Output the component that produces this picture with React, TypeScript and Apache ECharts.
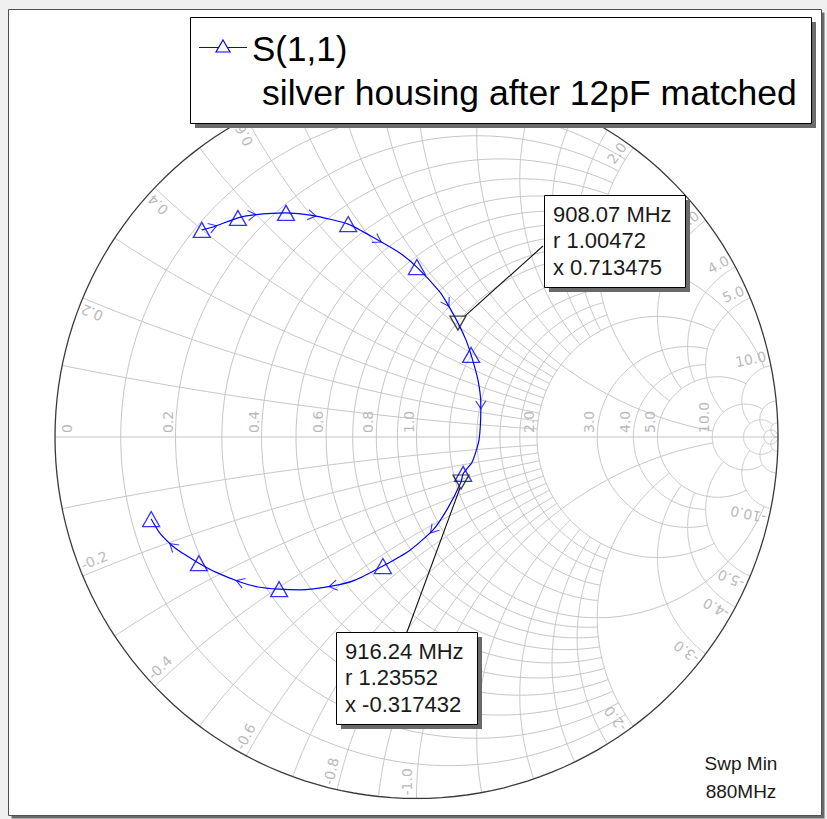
import React, { useEffect, useRef } from "react";
import * as echarts from "echarts";

// ---------- data ----------
const SERIES_NAME = "S(1,1)";
const SERIES_DESC = "silver housing after 12pF matched";
const SWP_TEXT = ["Swp Min", "880MHz"];

const TRACE_RE = [-0.594, -0.563, -0.494, -0.455, -0.361, -0.289, -0.189, -0.107, -0.046, 0.001, 0.065, 0.084, 0.115, 0.137, 0.151, 0.170, 0.178, 0.173, 0.154, 0.129, 0.123, 0.087, 0.046, -0.018, -0.093, -0.170, -0.231, -0.322, -0.380, -0.438, -0.488, -0.557, -0.602, -0.640, -0.674, -0.710, -0.734];
const TRACE_IM = [0.573, 0.581, 0.606, 0.614, 0.620, 0.613, 0.589, 0.545, 0.509, 0.470, 0.401, 0.371, 0.315, 0.268, 0.227, 0.158, 0.089, -0.008, -0.069, -0.102, -0.125, -0.196, -0.257, -0.313, -0.357, -0.396, -0.412, -0.423, -0.421, -0.415, -0.401, -0.373, -0.349, -0.326, -0.302, -0.266, -0.227];
const MARKER_IDX = [0, 2, 4, 6, 9, 14, 19, 24, 28, 32, 36];
const ARROW_IDX = [1, 3, 5, 7, 11, 16, 22, 26, 30, 34];

// marker readouts
const MK_FREQ = ["908.07 MHz", "916.24 MHz"];
const MK_R = [1.00472, 1.23552];
const MK_X = [0.713475, -0.317432];

// Smith grid: value and where each arc stops
const R_VALUES = [0.1, 0.2, 0.3, 0.4, 0.5, 0.6, 0.7, 0.8, 0.9, 1.0, 1.2, 1.4, 1.6, 1.8, 2.0, 3.0, 4.0, 5.0, 10, 20, 50];
const R_XMAX = [2, 2, 2, 2, 2, 2, 2, 2, 2, 10, 2, 2, 2, 2, 5, 5, 5, 10, 20, 50, Infinity];
const X_VALUES = [0.1, 0.2, 0.3, 0.4, 0.5, 0.6, 0.7, 0.8, 0.9, 1.0, 1.2, 1.4, 1.6, 1.8, 2.0, 3.0, 4.0, 5.0, 10, 20, 50];
const X_RMAX = [2, 2, 2, 2, 2, 2, 2, 2, 2, 10, 2, 2, 2, 2, 5, 5, 5, 10, 20, 50, Infinity];
const R_LABELS = [0, 0.2, 0.4, 0.6, 0.8, 1.0, 2.0, 3.0, 4.0, 5.0, 10.0];
const X_LABELS = [0.2, 0.4, 0.6, 0.8, 1.0, 2.0, 3.0, 4.0, 5.0, 10.0, -0.2, -0.4, -0.6, -0.8, -1.0, -2.0, -3.0, -4.0, -5.0, -10.0];

// ---------- helpers ----------
const BLUE = "#0000ff";
const GRIDC = "#c6c6c6";
const LABC = "#bababa";

function zToGamma(r: number, x: number): number[] {
  const d = (r + 1) * (r + 1) + x * x;
  return [(r * r + x * x - 1) / d, (2 * x) / d];
}

function rCircle(r: number, xmax: number): number[][] {
  const c = r / (1 + r);
  const rad = 1 / (1 + r);
  let a0 = 0;
  let a1 = 2 * Math.PI;
  if (isFinite(xmax)) {
    const [u, v] = zToGamma(r, xmax);
    const phi = Math.atan2(v, u - c);
    a0 = phi;
    a1 = 2 * Math.PI - phi;
  }
  const n = 180;
  const pts: number[][] = [];
  for (let i = 0; i <= n; i++) {
    const a = a0 + ((a1 - a0) * i) / n;
    pts.push([c + rad * Math.cos(a), rad * Math.sin(a)]);
  }
  return pts;
}

function xArc(x: number, rmax: number): number[][] {
  const ax = Math.abs(x);
  const cy = 1 / ax;
  const rad = 1 / ax;
  const norm = (a: number) => (a < 0 ? a + 2 * Math.PI : a);
  const [u0, v0] = zToGamma(0, ax);
  const a0 = norm(Math.atan2(v0 - cy, u0 - 1));
  let a1 = 1.5 * Math.PI;
  if (isFinite(rmax)) {
    const [u1, v1] = zToGamma(rmax, ax);
    a1 = norm(Math.atan2(v1 - cy, u1 - 1));
  }
  const n = 160;
  const pts: number[][] = [];
  const s = x < 0 ? -1 : 1;
  for (let i = 0; i <= n; i++) {
    const a = a0 + ((a1 - a0) * i) / n;
    pts.push([1 + rad * Math.cos(a), s * (cy + rad * Math.sin(a))]);
  }
  return pts;
}

function buildGrid(): { coords: number[][] }[] {
  const out: { coords: number[][] }[] = [];
  out.push({ coords: [[-1, 0], [1, 0]] });
  R_VALUES.forEach((r, i) => out.push({ coords: rCircle(r, R_XMAX[i]) }));
  X_VALUES.forEach((x, i) => {
    out.push({ coords: xArc(x, X_RMAX[i]) });
    out.push({ coords: xArc(-x, X_RMAX[i]) });
  });
  return out;
}

const tracePairs = TRACE_RE.map((u, i) => [u, TRACE_IM[i]]);

function baseOption(): any {
  const arrows = ARROW_IDX.map((i) => {
    const a = tracePairs[i - 1];
    const b = tracePairs[i + 1];
    const deg = (Math.atan2(b[1] - a[1], b[0] - a[0]) * 180) / Math.PI;
    return { value: tracePairs[i], symbolRotate: deg };
  });
  const mk = MK_R.map((r, i) => zToGamma(r, MK_X[i]));
  return {
    animation: false,
    backgroundColor: "#f0f0f0",
    grid: { left: 55, top: 75.5, width: 723, height: 723, containLabel: false },
    xAxis: { type: "value", min: -1, max: 1, show: false },
    yAxis: { type: "value", min: -1, max: 1, show: false },
    series: [
      {
        type: "lines",
        coordinateSystem: "cartesian2d",
        polyline: true,
        silent: true,
        z: 2,
        lineStyle: { color: GRIDC, width: 1, opacity: 1 },
        data: buildGrid(),
      },
      {
        type: "lines",
        coordinateSystem: "cartesian2d",
        polyline: true,
        silent: true,
        z: 3,
        lineStyle: { color: "#3a3a3a", width: 1.3, opacity: 1 },
        data: [{ coords: rCircle(0, Infinity) }],
      },
      {
        name: SERIES_NAME,
        type: "line",
        data: tracePairs,
        showSymbol: false,
        smooth: 0.2,
        clip: false,
        z: 5,
        lineStyle: { color: BLUE, width: 1.2 },
      },
      {
        type: "scatter",
        data: MARKER_IDX.map((i) => tracePairs[i]),
        symbol: "triangle",
        symbolSize: [17, 15],
        clip: false,
        z: 6,
        itemStyle: { color: "rgba(255,255,255,0)", borderColor: BLUE, borderWidth: 1.3 },
      },
      {
        type: "scatter",
        data: arrows,
        symbol: "path://M0,0L10,5L0,10",
        symbolSize: [8, 10],
        clip: false,
        z: 6,
        itemStyle: { color: "rgba(255,255,255,0)", borderColor: BLUE, borderWidth: 1 },
      },
      {
        type: "scatter",
        data: mk,
        symbol: "triangle",
        symbolRotate: 180,
        symbolSize: [16, 14],
        clip: false,
        z: 7,
        itemStyle: { color: "rgba(255,255,255,0)", borderColor: "#111", borderWidth: 1.3 },
      },
    ],
  };
}

function buildGraphic(chart: any): any[] {
  const px = (u: number, v: number) => chart.convertToPixel({ gridIndex: 0 }, [u, v]) as number[];
  const [cx, cy] = px(0, 0);
  const RAD = px(1, 0)[0] - cx;
  const g: any[] = [];
  const labFont = { fontSize: 14, fontFamily: "DejaVu Sans", fill: LABC };

  // page panel
  g.push({ type: "rect", z: 0, shape: { x: 11.5, y: 12.5, width: 813, height: 806 }, style: { fill: "#6a6a6a" } });
  g.push({ type: "rect", z: 0, shape: { x: 8.5, y: 9.5, width: 813, height: 806 }, style: { fill: "#ffffff", stroke: "#505050", lineWidth: 1 } });

  // resistance labels on the real axis
  R_LABELS.forEach((r) => {
    const [lx, ly] = px((r - 1) / (r + 1), 0);
    g.push({
      type: "text",
      z: 4,
      x: r === 0 ? lx + 11.5 : lx - 8,
      y: ly - 4,
      rotation: Math.PI / 2,
      silent: true,
      style: { text: r === 0 ? "0" : r.toFixed(1), align: "left", verticalAlign: "middle", ...labFont },
    });
  });

  // reactance labels on the rim
  X_LABELS.forEach((x) => {
    const [u, v] = zToGamma(0, x);
    const th = Math.atan2(v, u);
    const rr = RAD - 3;
    let ax = cx + rr * Math.cos(th);
    let ay = cy - rr * Math.sin(th);
    const off = 10;
    if (x > 0) {
      ax += -Math.sin(th) * off;
      ay += -Math.cos(th) * off;
    } else {
      ax += Math.sin(th) * off;
      ay += Math.cos(th) * off;
    }
    g.push({
      type: "text",
      z: 4,
      x: ax,
      y: ay,
      rotation: x > 0 ? th : th + Math.PI,
      silent: true,
      style: { text: x.toFixed(1), align: x > 0 ? "right" : "left", verticalAlign: "middle", ...labFont },
    });
  });

  // legend
  g.push({ type: "rect", z: 20, shape: { x: 195, y: 22, width: 621, height: 106 }, style: { fill: "#6a6a6a" } });
  g.push({ type: "rect", z: 21, shape: { x: 190.5, y: 17.5, width: 621, height: 106 }, style: { fill: "#fff", stroke: "#000", lineWidth: 1 } });
  g.push({ type: "line", z: 22, shape: { x1: 199, y1: 47.5, x2: 247, y2: 47.5 }, style: { stroke: BLUE, lineWidth: 1.2 } });
  g.push({ type: "polygon", z: 22, shape: { points: [[223, 40], [230, 52], [216, 52]] }, style: { fill: "#fff", stroke: BLUE, lineWidth: 1.2 } });
  g.push({ type: "text", z: 22, x: 252, y: 48, style: { text: SERIES_NAME, fontSize: 35, fontFamily: "Liberation Sans", fill: "#000", align: "left", verticalAlign: "middle" } });
  g.push({ type: "text", z: 22, x: 262, y: 93, style: { text: SERIES_DESC, fontSize: 35.5, fontFamily: "Liberation Sans", fill: "#000", align: "left", verticalAlign: "middle" } });

  // marker readout boxes
  const boxes = [
    { x: 544, y: 195, lx: 543, ly: 246, dx: 7, dy: -7 },
    { x: 336, y: 632, lx: 407, ly: 632, dx: -1, dy: 6 },
  ];
  MK_R.forEach((r, i) => {
    const b = boxes[i];
    const [u, v] = zToGamma(r, MK_X[i]);
    const [mx, my] = px(u, v);
    g.push({ type: "line", z: 19, shape: { x1: b.lx, y1: b.ly, x2: mx + b.dx, y2: my + b.dy }, style: { stroke: "#111", lineWidth: 1.1 } });
    g.push({ type: "rect", z: 20, shape: { x: b.x + 5, y: b.y + 5, width: 141, height: 92 }, style: { fill: "#6a6a6a" } });
    g.push({ type: "rect", z: 21, shape: { x: b.x + 0.5, y: b.y + 0.5, width: 141, height: 92 }, style: { fill: "#fff", stroke: "#000", lineWidth: 1 } });
    const lines = [MK_FREQ[i], "r " + String(r), "x " + String(MK_X[i])];
    lines.forEach((t, k) => {
      g.push({
        type: "text",
        z: 22,
        x: b.x + 9,
        y: b.y + 19 + k * 26.8,
        style: { text: t, fontSize: 22, fontFamily: "Liberation Sans", fill: "#1a1a1a", align: "left", verticalAlign: "middle" },
      });
    });
  });

  // sweep note
  SWP_TEXT.forEach((t, k) => {
    g.push({
      type: "text",
      z: 22,
      x: 741,
      y: 763 + k * 28,
      style: { text: t, fontSize: 19, fontFamily: "Liberation Sans", fill: "#1a1a1a", align: "center", verticalAlign: "middle" },
    });
  });
  return g;
}

export default function App() {
  const ref = useRef<HTMLDivElement>(null);
  useEffect(() => {
    if (!ref.current) return;
    const chart = echarts.init(ref.current, null, { renderer: "svg" });
    chart.setOption(baseOption());
    chart.setOption({ graphic: buildGraphic(chart) });
    return () => chart.dispose();
  }, []);
  return <div ref={ref} style={{ position: "absolute", left: 0, top: 0, width: 827, height: 819 }} />;
}
